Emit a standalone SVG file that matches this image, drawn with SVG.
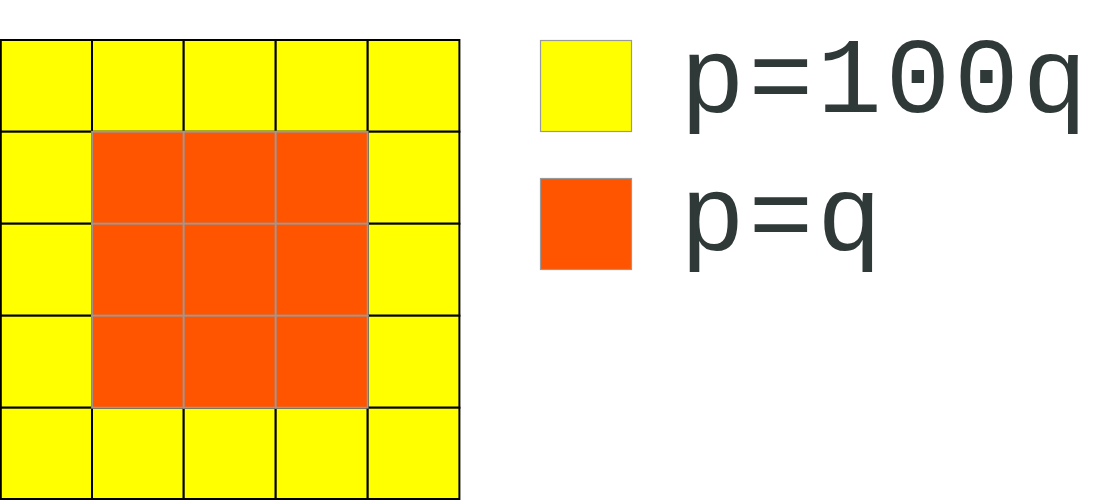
<svg xmlns="http://www.w3.org/2000/svg" width="1101" height="500" viewBox="0 0 1101 500">
<style>
.y{fill:#ffff00;stroke:#000;stroke-width:2}
.o{fill:#ff5500;stroke:#999;stroke-width:1.8}
.ly{fill:#ffff00;stroke:#999;stroke-width:1.2}
.lo{fill:#ff5500;stroke:#999;stroke-width:1.2}
.t{font-family:"Liberation Mono","Courier New",monospace;font-size:108px;fill:#2f3a38}
</style>
<rect width="1101" height="500" fill="#fff"/>
<g id="grid">
<rect class="y" x="0.8" y="40" width="91.2" height="91.7"/>
<rect class="y" x="92" y="40" width="91.7" height="91.7"/>
<rect class="y" x="183.7" y="40" width="92" height="91.7"/>
<rect class="y" x="275.7" y="40" width="92" height="91.7"/>
<rect class="y" x="367.7" y="40" width="91.7" height="91.7"/>
<rect class="y" x="0.8" y="131.7" width="91.2" height="92"/>
<rect class="y" x="367.7" y="131.7" width="91.7" height="92"/>
<rect class="y" x="0.8" y="223.7" width="91.2" height="92"/>
<rect class="y" x="367.7" y="223.7" width="91.7" height="92"/>
<rect class="y" x="0.8" y="315.7" width="91.2" height="92"/>
<rect class="y" x="367.7" y="315.7" width="91.7" height="92"/>
<rect class="y" x="0.8" y="407.7" width="91.2" height="91.3"/>
<rect class="y" x="92" y="407.7" width="91.7" height="91.3"/>
<rect class="y" x="183.7" y="407.7" width="92" height="91.3"/>
<rect class="y" x="275.7" y="407.7" width="92" height="91.3"/>
<rect class="y" x="367.7" y="407.7" width="91.7" height="91.3"/>
<rect class="o" x="92" y="131.7" width="91.7" height="92"/>
<rect class="o" x="183.7" y="131.7" width="92" height="92"/>
<rect class="o" x="275.7" y="131.7" width="92" height="92"/>
<rect class="o" x="92" y="223.7" width="91.7" height="92"/>
<rect class="o" x="183.7" y="223.7" width="92" height="92"/>
<rect class="o" x="275.7" y="223.7" width="92" height="92"/>
<rect class="o" x="92" y="315.7" width="91.7" height="92"/>
<rect class="o" x="183.7" y="315.7" width="92" height="92"/>
<rect class="o" x="275.7" y="315.7" width="92" height="92"/>
</g>
<g id="legend-yellow">
<rect class="ly" x="540.5" y="40.5" width="91" height="91"/>
<text class="t" x="680 748.5 817 885.5 954 1022.5" y="112">p=100q</text>
</g>
<g id="legend-orange">
<rect class="lo" x="540.5" y="178.5" width="91" height="91"/>
<text class="t" x="680 748.5 817" y="250">p=q</text>
</g>
<g id="connectors"/>
</svg>
